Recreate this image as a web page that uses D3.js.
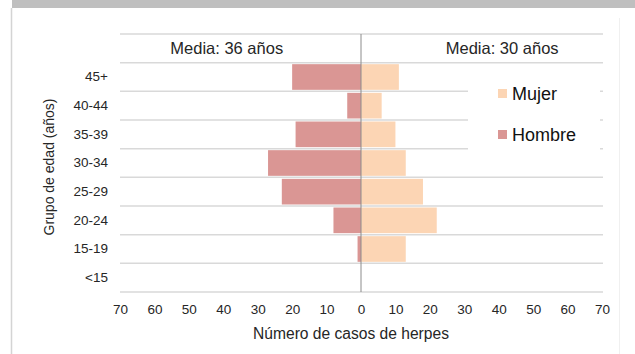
<!DOCTYPE html>
<html>
<head>
<meta charset="utf-8">
<script src="https://cdn.jsdelivr.net/npm/d3@7"></script>
<style>
  body { margin: 0; background: #fff; }
  svg { display: block; font-family: "Liberation Sans", Arial, sans-serif; }
</style>
</head>
<body>
<svg id="contenedor"></svg>
<script>
// datos del gráfico
let grupos = ["45+", "40-44", "35-39", "30-34", "25-29", "20-24", "15-19", "<15"];
let hombres = [20, 4, 19, 27, 23, 8, 1, 0];
let mujeres = [11, 6, 10, 13, 18, 22, 13, 0];
let ticksX = [-70, -60, -50, -40, -30, -20, -10, 0, 10, 20, 30, 40, 50, 60, 70];
let medias = [
  { texto: "Media: 36 años", valor: -39 },
  { texto: "Media: 30 años", valor: 41 },
];
let leyenda = [
  { nombre: "Mujer", color: "#fcd5b4" },
  { nombre: "Hombre", color: "#da9694" },
];

/* ################################# CONFIGURACIONES AREA DE DIBUJO ################################# */
function getConfig() {
  let width = 635;
  let height = 354;
  let margin = { top: 34, bottom: 62, left: 120, right: 33 };
  let bodyWidth = width - margin.left - margin.right;
  let bodyHeight = height - margin.top - margin.bottom;
  let container = d3.select("#contenedor").attr("width", width).attr("height", height);
  return { width, height, margin, bodyWidth, bodyHeight, container };
}

/* ############################################# ESCALAS ########################################## */
function getScales(config) {
  let { margin, bodyWidth, bodyHeight } = config;
  let xScale = d3.scaleLinear().domain([-70, 70]).range([margin.left, margin.left + bodyWidth]);
  // la primera banda queda vacía: ahí van los textos de la media
  let yScale = d3.scaleBand()
    .domain([""].concat(grupos))
    .range([margin.top, margin.top + bodyHeight])
    .paddingInner(0);
  return { xScale, yScale };
}

/* ############################################# MARCO ########################################## */
function dibujarMarco(config) {
  let { width, height, container } = config;
  container.append("rect").attr("x", 12).attr("y", 0).attr("width", width - 12).attr("height", 8).attr("fill", "#bfbfbf");
  container.append("line").attr("x1", 11.5).attr("x2", 11.5).attr("y1", 8).attr("y2", height)
    .attr("stroke", "#d4d4d4").attr("stroke-width", 1.5);
  container.append("line").attr("x1", 619.5).attr("x2", 619.5).attr("y1", 18).attr("y2", height)
    .attr("stroke", "#f0f0f0").attr("stroke-width", 1);
}

/* ############################################# GRILLA ########################################## */
function dibujarGrilla(scales, config) {
  let { xScale, yScale } = scales;
  let { container } = config;
  let lineas = yScale.domain().map((d) => yScale(d)).concat([yScale.range()[1]]);
  container.append("g")
    .selectAll("line")
    .data(lineas)
    .enter()
    .append("line")
    .attr("x1", xScale(-70))
    .attr("x2", xScale(70) + 1)
    .attr("y1", (d) => d)
    .attr("y2", (d) => d)
    .attr("stroke", "#d9d9d9")
    .attr("stroke-width", 1.5);
}

/* ############################################# BARRAS ########################################## */
function dibujarBarras(scales, config) {
  let { xScale, yScale } = scales;
  let { container } = config;
  let h = yScale.bandwidth() - 3;

  container.append("g")
    .selectAll("rect")
    .data(grupos.map((g, i) => ({ grupo: g, valor: hombres[i] })))
    .enter()
    .append("rect")
    .attr("x", (d) => xScale(-d.valor))
    .attr("y", (d) => yScale(d.grupo) + 1.5)
    .attr("width", (d) => xScale(0) - xScale(-d.valor))
    .attr("height", h)
    .attr("fill", leyenda[1].color);

  container.append("g")
    .selectAll("rect")
    .data(grupos.map((g, i) => ({ grupo: g, valor: mujeres[i] })))
    .enter()
    .append("rect")
    .attr("x", xScale(0))
    .attr("y", (d) => yScale(d.grupo) + 1.5)
    .attr("width", (d) => xScale(d.valor) - xScale(0))
    .attr("height", h)
    .attr("fill", leyenda[0].color);

  // linea del cero
  container.append("line")
    .attr("x1", xScale(0)).attr("x2", xScale(0))
    .attr("y1", yScale.range()[0]).attr("y2", yScale.range()[1])
    .attr("stroke", "#8c8c8c").attr("stroke-width", 1);
}

/* ############################################# EJES ########################################## */
function dibujarEjes(scales, config) {
  let { xScale, yScale } = scales;
  let { container } = config;

  let axisX = d3.axisBottom(xScale).tickValues(ticksX).tickSize(0).tickPadding(0)
    .tickFormat((d) => Math.abs(d));
  let gx = container.append("g").attr("transform", "translate(0, 304)").call(axisX);
  gx.select(".domain").remove();
  gx.selectAll("text").attr("dy", "0.71em").attr("font-size", 13.5).attr("fill", "#262626")
    .attr("font-family", "Liberation Sans, Arial, sans-serif");

  let axisY = d3.axisLeft(yScale).tickValues(grupos).tickSize(0).tickPadding(0);
  let gy = container.append("g").attr("transform", "translate(108, 0)").call(axisY);
  gy.select(".domain").remove();
  gy.selectAll("text").attr("font-size", 13.5).attr("fill", "#262626")
    .attr("font-family", "Liberation Sans, Arial, sans-serif");

  // titulos de ejes
  container.append("text")
    .attr("x", 351)
    .attr("y", 339)
    .attr("text-anchor", "middle")
    .attr("font-size", 15.6)
    .attr("fill", "#262626")
    .text("Número de casos de herpes");

  container.append("text")
    .attr("transform", "translate(54, 167) rotate(-90)")
    .attr("text-anchor", "middle")
    .attr("font-size", 14)
    .attr("fill", "#262626")
    .text("Grupo de edad (años)");
}

/* ############################################# TEXTOS Y LEYENDA ########################################## */
function dibujarTextos(scales, config) {
  let { xScale, yScale } = scales;
  let { container } = config;

  container.append("g")
    .selectAll("text")
    .data(medias)
    .enter()
    .append("text")
    .attr("x", (d) => xScale(d.valor))
    .attr("y", yScale("") + yScale.bandwidth() / 2 + 6)
    .attr("text-anchor", "middle")
    .attr("font-size", 16.5)
    .attr("fill", "#262626")
    .text((d) => d.texto);

  // caja de la leyenda (tapa la grilla)
  container.append("rect")
    .attr("x", 468).attr("y", 64).attr("width", 132).attr("height", 87)
    .attr("fill", "#fff");

  let items = container.append("g")
    .selectAll("g")
    .data(leyenda)
    .enter()
    .append("g")
    .attr("transform", (d, i) => `translate(498, ${89 + i * 41})`);

  items.append("rect").attr("width", 9).attr("height", 9).attr("fill", (d) => d.color);
  items.append("text")
    .attr("x", 14)
    .attr("y", 11)
    .attr("font-size", 18)
    .attr("fill", "#111")
    .text((d) => d.nombre);
}

function dibujarChart() {
  let config = getConfig();
  let scales = getScales(config);
  dibujarMarco(config);
  dibujarGrilla(scales, config);
  dibujarTextos(scales, config);
  dibujarBarras(scales, config);
  dibujarEjes(scales, config);
}

dibujarChart();
</script>
</body>
</html>
